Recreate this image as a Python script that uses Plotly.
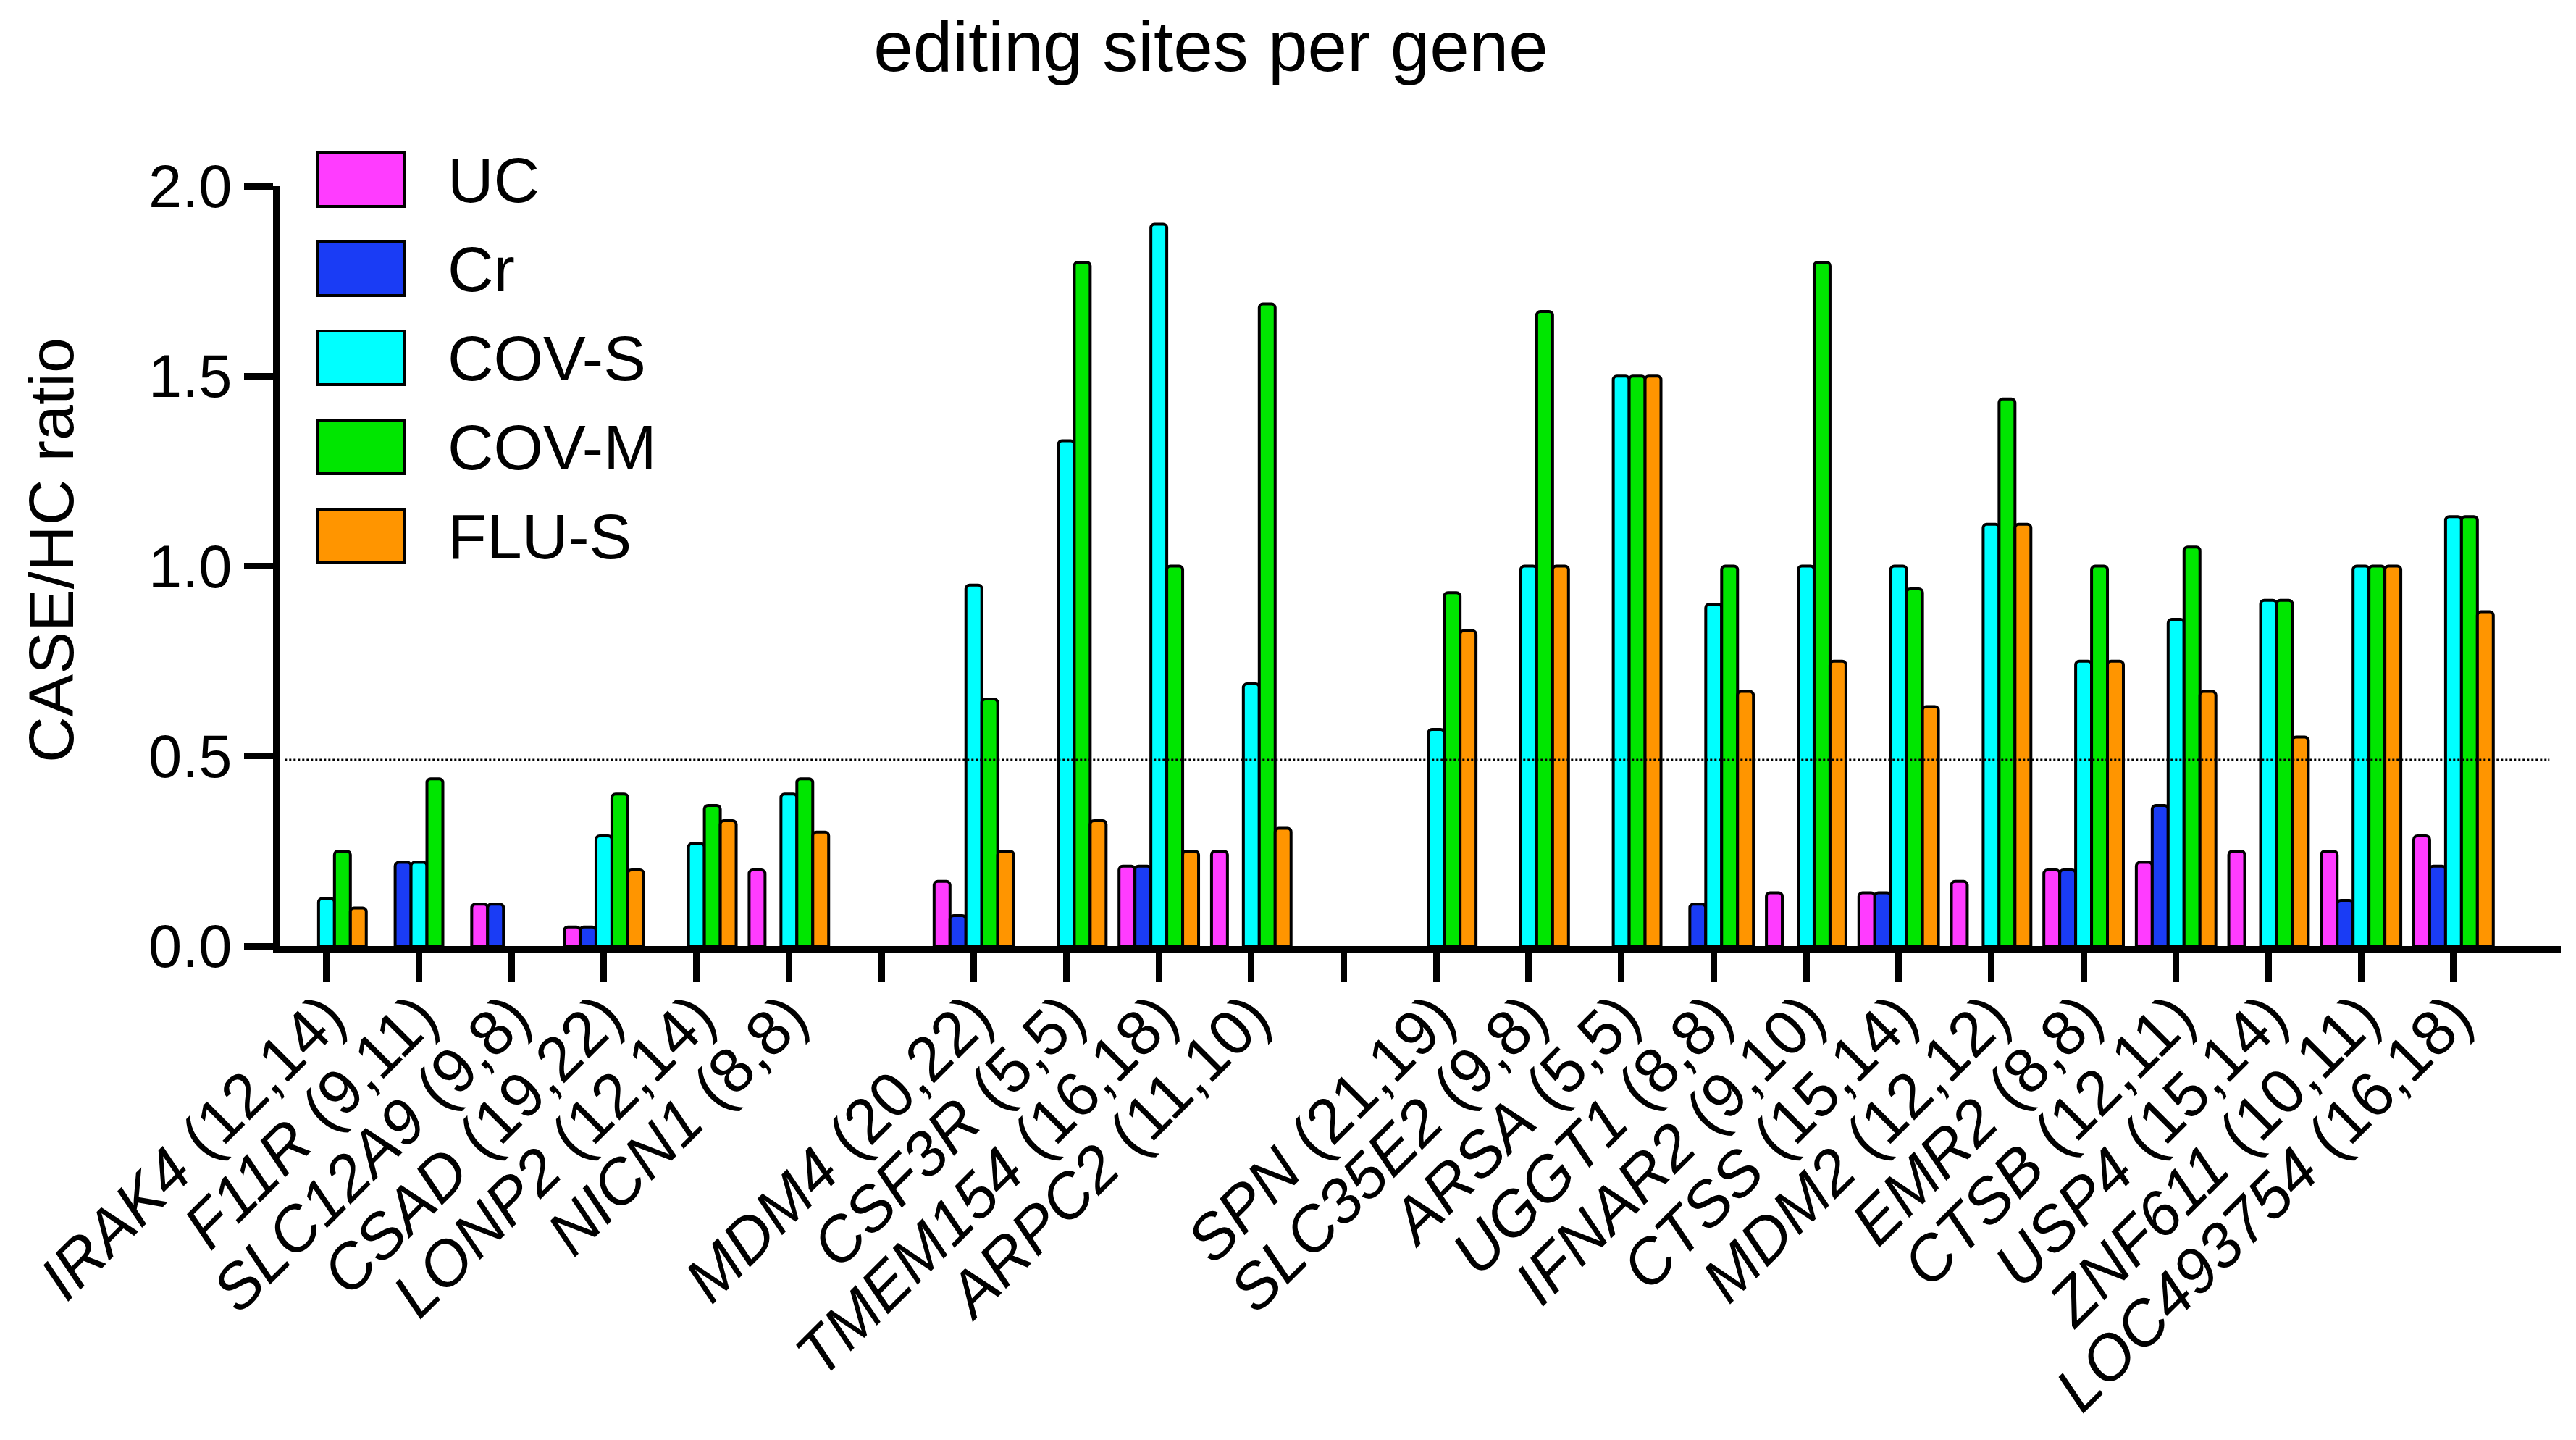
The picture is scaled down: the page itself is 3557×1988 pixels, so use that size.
import plotly.graph_objects as go

# categories (two blank slots separate the three gene blocks)
genes = ['IRAK4 (12,14)', 'F11R (9,11)', 'SLC12A9 (9,8)', 'CSAD (19,22)', 'LONP2 (12,14)',
         'NICN1 (8,8)', ' ', 'MDM4 (20,22)', 'CSF3R (5,5)', 'TMEM154 (16,18)', 'ARPC2 (11,10)',
         '  ', 'SPN (21,19)', 'SLC35E2 (9,8)', 'ARSA (5,5)', 'UGGT1 (8,8)', 'IFNAR2 (9,10)',
         'CTSS (15,14)', 'MDM2 (12,12)', 'EMR2 (8,8)', 'CTSB (12,11)', 'USP4 (15,14)',
         'ZNF611 (10,11)', 'LOC493754 (16,18)']

uc = [None, None, 0.11, 0.05, None, 0.20, None, 0.17, None, 0.21, 0.25, None,
      None, None, None, None, 0.14, 0.14, 0.17, 0.20, 0.22, 0.25, 0.25, 0.29]
cr = [None, 0.22, 0.11, 0.05, None, None, None, 0.08, None, 0.21, None, None,
      None, None, None, 0.11, None, 0.14, None, 0.20, 0.37, None, 0.12, 0.21]
cov_s = [0.125, 0.22, None, 0.29, 0.27, 0.40, None, 0.95, 1.33, 1.90, 0.69, None,
         0.57, 1.00, 1.50, 0.90, 1.00, 1.00, 1.11, 0.75, 0.86, 0.91, 1.00, 1.13]
cov_m = [0.25, 0.44, None, 0.40, 0.37, 0.44, None, 0.65, 1.80, 1.00, 1.69, None,
         0.93, 1.67, 1.50, 1.00, 1.80, 0.94, 1.44, 1.00, 1.05, 0.91, 1.00, 1.13]
flu_s = [0.10, None, None, 0.20, 0.33, 0.30, None, 0.25, 0.33, 0.25, 0.31, None,
         0.83, 1.00, 1.50, 0.67, 0.75, 0.63, 1.11, 0.75, 0.67, 0.55, 1.00, 0.88]

grupos = ['UC', 'Cr', 'COV-S', 'COV-M', 'FLU-S']
valores = [uc, cr, cov_s, cov_m, flu_s]
cores = ['#FF3CFF', '#1A3CF5', '#00FFFF', '#00E600', '#FF9500']

linha_ref = 0.49

# gene name in italics, counts upright
def rotulo(g):
    if not g.strip():
        return ''
    nome, resto = g.split(' ', 1)
    return '<i>' + nome + '</i> ' + resto

W, H = 3557, 1988
L, R, T, B = 379, 29, 249, 690
fonte = 'Liberation Sans, Arial, sans-serif'

fig = go.Figure()
for nome, vals, cor in zip(grupos, valores, cores):
    fig.add_trace(go.Bar(x=genes, y=vals, name=nome, showlegend=False,
                         marker=dict(color=cor, line=dict(color='black', width=4),
                                     cornerradius=5)))

# dotted reference line
fig.add_shape(type='line', xref='paper', yref='y', x0=0.002, x1=0.995,
              y0=linha_ref, y1=linha_ref, line=dict(color='black', width=3, dash='dot'))

# hand made legend with big swatches
pw, ph = W - L - R, H - T - B
def px_x(v):
    return (v - L) / pw
def px_y(v):
    return (H - B - v) / ph

for i, (nome, cor) in enumerate(zip(grupos, cores)):
    cy = 240 + 123 * i
    fig.add_shape(type='rect', xref='paper', yref='paper',
                  x0=px_x(430), x1=px_x(551), y0=px_y(cy + 37), y1=px_y(cy - 37),
                  fillcolor=cor, line=dict(color='black', width=4))
    fig.add_annotation(text=nome, xref='paper', yref='paper', x=px_x(608), y=px_y(cy),
                       xanchor='left', yanchor='middle', showarrow=False,
                       font=dict(size=88, color='black', family=fonte))

fig.add_annotation(text='CASE/HC ratio', textangle=-90, xref='paper', yref='paper',
                   x=0, y=px_y(752), xshift=62 - L, xanchor='center', yanchor='middle',
                   showarrow=False, font=dict(size=88, color='black', family=fonte))

fig.update_layout(
    width=W, height=H,
    margin=dict(l=L, r=R, t=T, b=B),
    paper_bgcolor='white', plot_bgcolor='white',
    barmode='group', bargap=0.14, bargroupgap=0,
    font=dict(family=fonte, color='black'),
    title=dict(text='editing sites per gene', xref='container', yref='container',
               x=1664 / W, y=1 - 56 / H, xanchor='center', yanchor='middle',
               font=dict(size=98, color='black', family=fonte)),
)

fig.update_xaxes(tickmode='array', tickvals=genes, ticktext=[rotulo(g) for g in genes],
                 tickangle=-45, tickfont=dict(size=87), range=[-0.5, 24.16],
                 ticklabelstandoff=-38,
                 showline=True, linecolor='black', linewidth=10,
                 ticks='outside', ticklen=40, tickwidth=9, tickcolor='black',
                 showgrid=False, zeroline=False)
fig.update_yaxes(range=[0, 2.0], tickvals=[0, 0.5, 1.0, 1.5, 2.0],
                 ticktext=['0.0', '0.5', '1.0', '1.5', '2.0'], tickfont=dict(size=83),
                 showline=True, linecolor='black', linewidth=10,
                 ticks='outside', ticklen=40, tickwidth=9, tickcolor='black',
                 showgrid=False, zeroline=False)

fig.write_html('out.html')
